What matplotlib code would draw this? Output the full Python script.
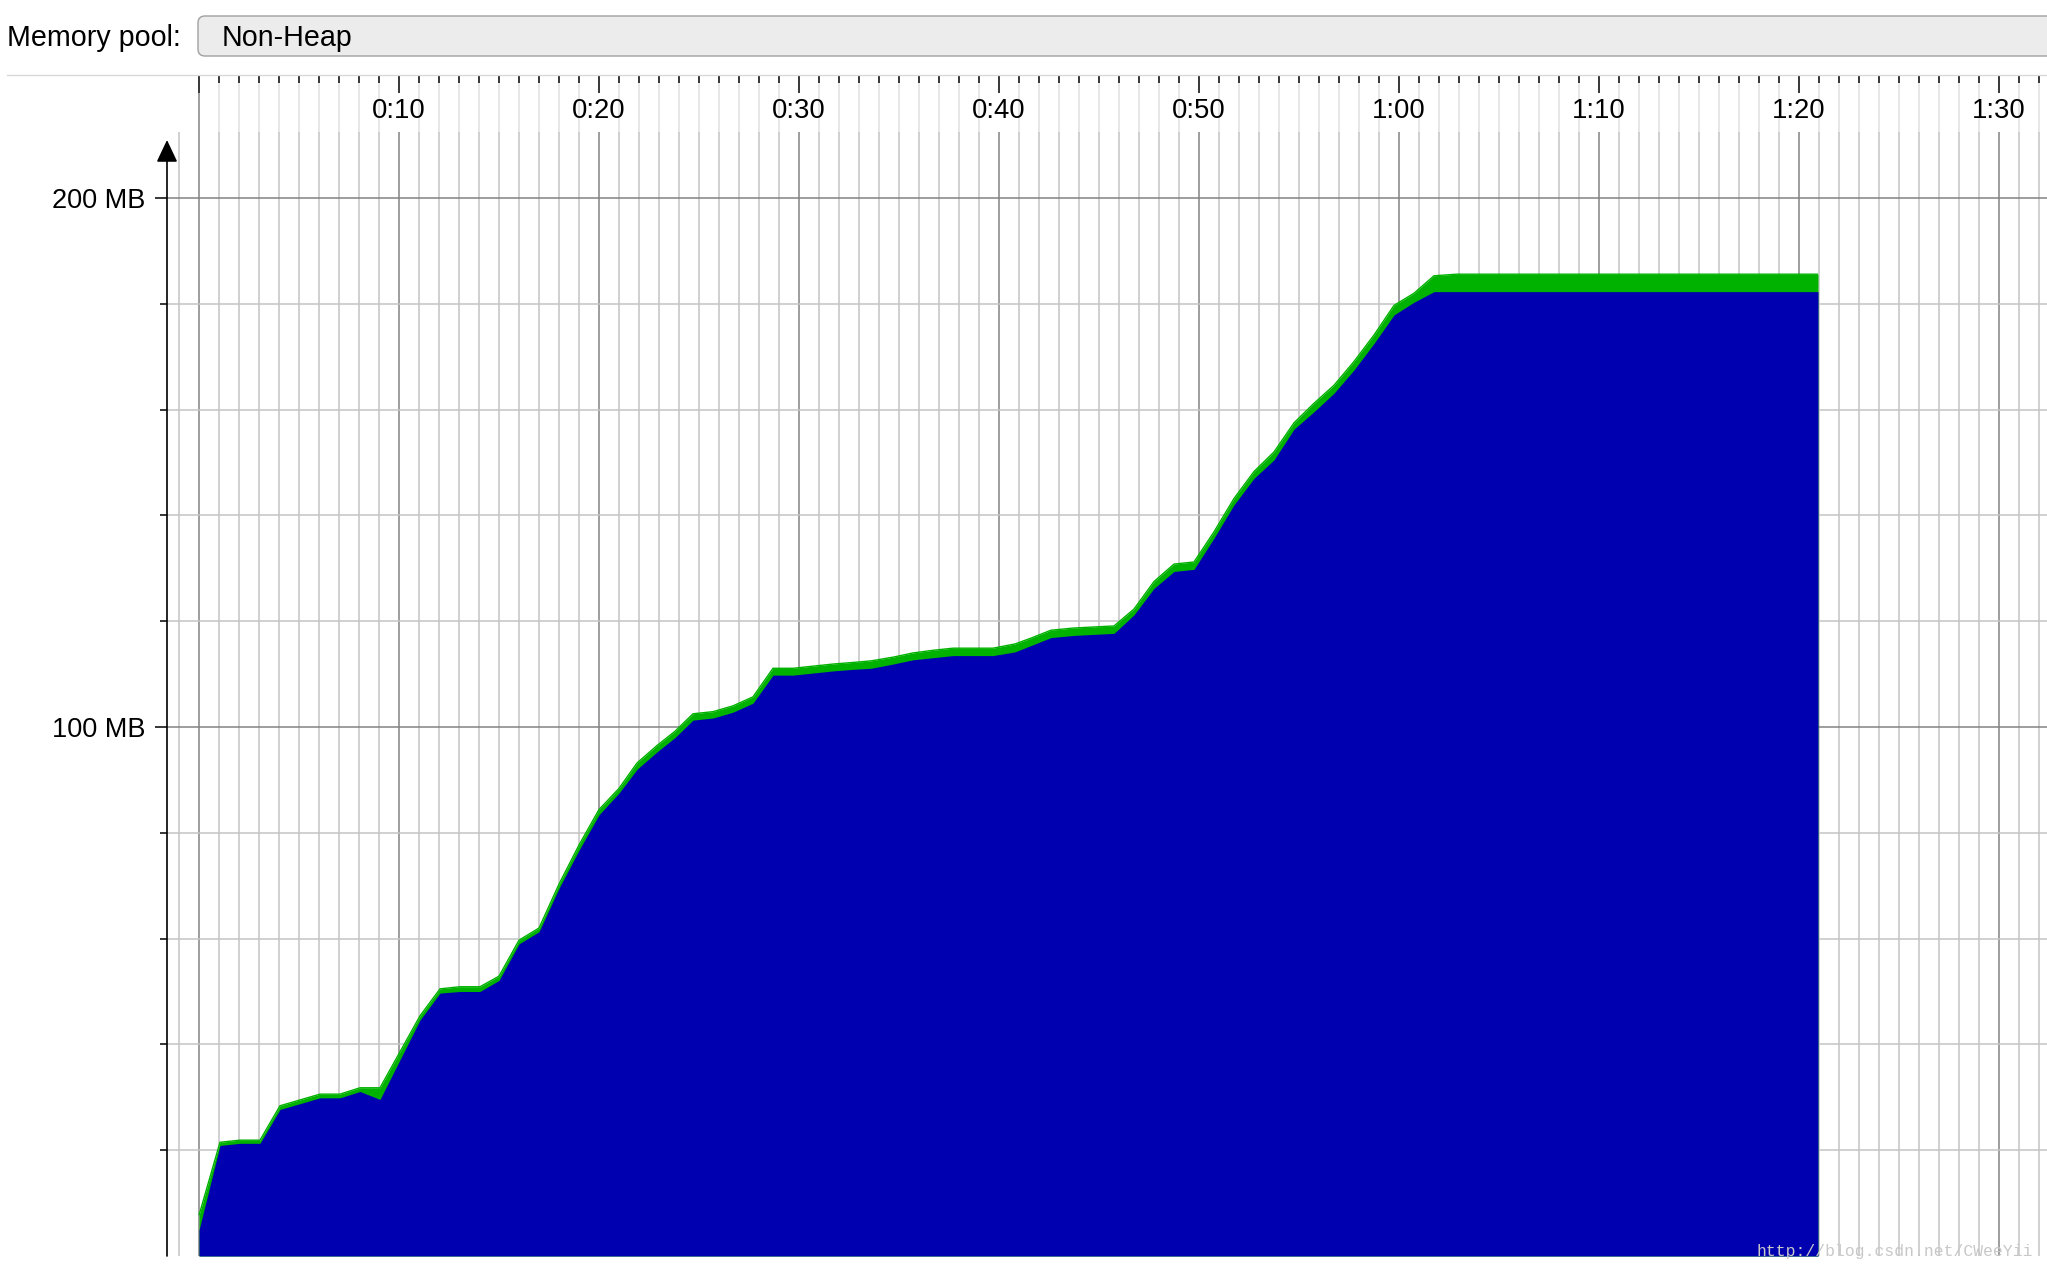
#!/usr/bin/env python3
"""JConsole style Non-Heap memory pool chart (used vs committed)."""

import matplotlib

matplotlib.use("Agg")
import matplotlib.pyplot as plt
from matplotlib.lines import Line2D
from matplotlib.patches import FancyBboxPatch
from matplotlib.ticker import FixedLocator, MultipleLocator
from matplotlib.transforms import IdentityTransform

W, H = 2047, 1272
DPI = 100

# samples: time (s), used (MB), committed (MB)
TIME_S = [
    0.0, 1.05, 2.05, 3.05, 4.05, 5.05, 6.05, 7.05, 8.05, 9.05,
    11.05, 12.05, 13.05, 14.05, 15.0, 16.0, 17.0, 18.0, 19.0, 20.0,
    21.0, 21.9, 22.9, 23.8, 24.7, 25.7, 26.7, 27.7, 28.7, 29.7,
    30.7, 31.7, 32.7, 33.6, 34.7, 35.7, 36.7, 37.7, 38.7, 39.7,
    40.8, 41.6, 42.6, 43.7, 44.7, 45.75, 46.75, 47.75, 48.75, 49.75,
    50.75, 51.75, 52.75, 53.75, 54.75, 55.75, 56.75, 57.75, 58.75, 59.75,
    60.75, 61.75, 62.9, 80.95,
]
USED_MB = [
    4.9, 20.9, 21.3, 21.3, 27.7, 28.8, 29.9, 29.9, 31.1, 29.6,
    44.6, 49.7, 50.0, 50.0, 52.1, 59.0, 61.3, 69.5, 76.7, 83.4,
    87.5, 92.0, 95.3, 98.0, 101.3, 101.7, 102.8, 104.5, 109.8, 109.8,
    110.2, 110.6, 110.9, 111.1, 111.9, 112.7, 113.1, 113.5, 113.5, 113.5,
    114.2, 115.4, 116.9, 117.3, 117.5, 117.7, 121.2, 126.2, 129.4, 129.8,
    135.7, 142.0, 147.0, 150.5, 156.3, 159.6, 163.1, 167.5, 172.5, 177.9,
    180.3, 182.3, 182.3, 182.3,
]
COMMITTED_MB = [
    7.7, 21.5, 21.9, 21.9, 28.4, 29.5, 30.6, 30.6, 31.8, 31.8,
    45.4, 50.5, 50.9, 50.9, 52.9, 59.7, 62.0, 70.3, 77.7, 84.4,
    88.4, 93.2, 96.5, 99.2, 102.5, 102.9, 104.0, 105.7, 111.1, 111.1,
    111.5, 111.9, 112.2, 112.5, 113.2, 114.0, 114.5, 114.9, 114.9, 114.9,
    115.7, 116.8, 118.3, 118.7, 118.9, 119.1, 122.3, 127.5, 130.8, 131.2,
    136.9, 143.2, 148.3, 152.0, 157.5, 161.2, 164.6, 169.1, 174.1, 179.7,
    182.0, 185.3, 185.6, 185.6,
]

X_MAJOR = [10, 20, 30, 40, 50, 60, 70, 80, 90]
X_LABELS = ["0:10", "0:20", "0:30", "0:40", "0:50", "1:00", "1:10", "1:20", "1:30"]
Y_MAJOR = [100, 200]
Y_LABELS = ["100 MB", "200 MB"]
Y_MINOR = [20, 40, 60, 80, 120, 140, 160, 180]

POOL_LABEL = "Memory pool:"
POOL_NAME = "Non-Heap"
WATERMARK = "http://blog.csdn.net/CWeeYii"

BLUE = "#0000b0"
GREEN = "#00b200"
GRID_MAJOR = "#828282"
GRID_MINOR = "#c4c4c4"

# pixel layout (top-left origin)
AX_LEFT, AX_RIGHT = 167, 2047
AX_TOP, AX_BOTTOM = 132, 1256
RULER_TOP = 76
T0_PX, PX_PER_S = 199, 20.0
PX_PER_MB = 5.29

XLIM = ((AX_LEFT - T0_PX) / PX_PER_S, (AX_RIGHT - T0_PX) / PX_PER_S)
YLIM = (0, (AX_BOTTOM - AX_TOP) / PX_PER_MB)


def rect(left, top, right, bottom):
    return [left / W, 1 - bottom / H, (right - left) / W, (bottom - top) / H]


def main():
    plt.rcParams["font.family"] = ["Liberation Sans", "DejaVu Sans"]
    fig = plt.figure(figsize=(W / DPI, H / DPI), dpi=DPI)

    # ---- main chart ----
    ax = fig.add_axes(rect(AX_LEFT, AX_TOP, AX_RIGHT, AX_BOTTOM))
    ax.set_xlim(*XLIM)
    ax.set_ylim(*YLIM)
    for sp in ax.spines.values():
        sp.set_visible(False)
    ax.set_axisbelow(True)

    ax.xaxis.set_major_locator(MultipleLocator(10))
    ax.xaxis.set_minor_locator(MultipleLocator(1))
    ax.tick_params(axis="x", which="both", length=0, labelbottom=False)

    ax.yaxis.set_major_locator(FixedLocator(Y_MAJOR))
    ax.set_yticklabels(Y_LABELS)
    ax.yaxis.set_minor_locator(FixedLocator(Y_MINOR))
    ax.tick_params(axis="y", which="major", length=8.6, width=1.1, color="black",
                   pad=7.2, labelsize=19.5)
    ax.tick_params(axis="y", which="minor", length=5.0, width=1.1, color="black")

    ax.grid(which="major", color=GRID_MAJOR, lw=1.1)
    ax.grid(which="minor", color=GRID_MINOR, lw=1.1)

    ax.fill_between(TIME_S, 0, COMMITTED_MB, color=GREEN, lw=0, zorder=2)
    ax.plot(TIME_S, COMMITTED_MB, color=GREEN, lw=1.0, solid_capstyle="butt", zorder=2)
    ax.fill_between(TIME_S, 0, USED_MB, color=BLUE, lw=0, zorder=3)

    # vertical axis with arrow head
    tip_mb = (AX_BOTTOM - 140) / PX_PER_MB
    ax.annotate("", xy=(XLIM[0], tip_mb), xytext=(XLIM[0], 0),
                arrowprops=dict(arrowstyle="-|>,head_length=0.95,head_width=0.45",
                                mutation_scale=14.4, color="black", lw=1.2,
                                shrinkA=0, shrinkB=0),
                annotation_clip=False, zorder=5)

    # ---- time ruler above the chart ----
    rax = fig.add_axes(rect(AX_LEFT, RULER_TOP, AX_RIGHT, AX_TOP))
    rax.set_xlim(*XLIM)
    rax.set_ylim(AX_TOP, RULER_TOP)
    rax.axis("off")
    minor = [t for t in range(1, int(XLIM[1]) + 1) if t % 10]
    rax.vlines(minor, 83, AX_TOP, color="#e0e0e0", lw=1.1)
    rax.vlines(minor, RULER_TOP, 83, color="black", lw=1.1)
    rax.vlines([0] + X_MAJOR, RULER_TOP, 93, color="black", lw=1.1)
    rax.vlines([0], 93, AX_TOP, color=GRID_MAJOR, lw=1.1)
    for t, lab in zip(X_MAJOR, X_LABELS):
        rax.text(t, 118, lab, ha="center", va="baseline", fontsize=19.8, color="black")

    # ---- header ----
    fig.text(7 / W, 1 - 46 / H, POOL_LABEL, fontsize=20.6, va="baseline", color="black")
    box = FancyBboxPatch((198, H - 56), 1900, 40, boxstyle="round,pad=0,rounding_size=7",
                         transform=IdentityTransform(), facecolor="#ececec",
                         edgecolor="#a0a0a0", lw=1.0)
    fig.add_artist(box)
    fig.text(222 / W, 1 - 46 / H, POOL_NAME, fontsize=20.6, va="baseline", color="black")
    fig.add_artist(Line2D([7 / W, 1], [1 - 74.5 / H, 1 - 74.5 / H],
                          transform=fig.transFigure, color="#d8d8d8", lw=1.0))

    fig.text(1757 / W, 1 - 1256 / H, WATERMARK, fontsize=11.8, family="Liberation Mono",
             color="#c8c8c8", va="baseline", zorder=10)

    fig.savefig("out.png", dpi=DPI)


if __name__ == "__main__":
    main()
